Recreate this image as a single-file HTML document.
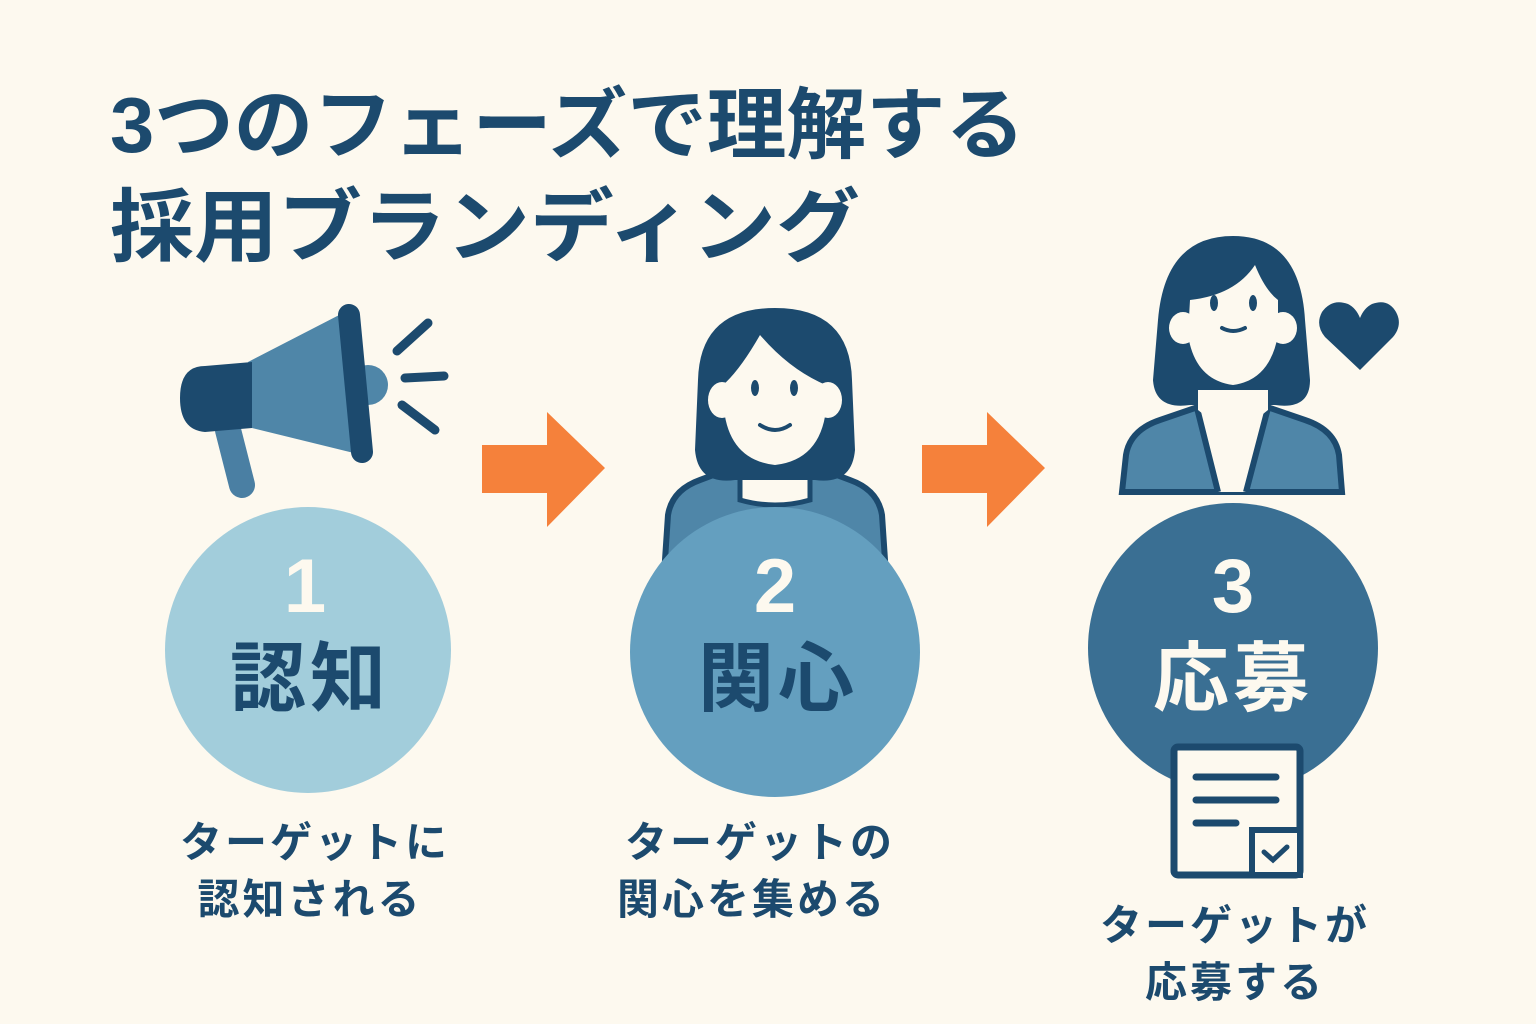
<!DOCTYPE html>
<html><head><meta charset="utf-8"><style>
html,body{margin:0;padding:0;background:#fdf9ef;}
svg{display:block}
text{font-family:"Liberation Sans","Noto Sans CJK JP",sans-serif;font-weight:700;}
</style></head><body>
<svg width="1536" height="1024" viewBox="0 0 1536 1024" xmlns="http://www.w3.org/2000/svg">
<rect width="1536" height="1024" fill="#fdf9ef"/>
<g fill="#1c4a6e">
<text x="110" y="152" font-size="78" textLength="915" lengthAdjust="spacingAndGlyphs">3つのフェーズで理解する</text>
<text x="110" y="255" font-size="80" textLength="750" lengthAdjust="spacingAndGlyphs">採用ブランディング</text>
</g>
<!-- megaphone -->
<g>
<line x1="228" y1="430" x2="242" y2="485" stroke="#4a7fa3" stroke-width="26" stroke-linecap="round"/>
<circle cx="368" cy="385" r="20" fill="#4f86a8"/>
<polygon points="248,362 345,312 362,455 252,428" fill="#4f86a8"/>
<path d="M252,362 L252,428 L205,432 Q180,430 180,398 Q180,366 205,366 Z" fill="#1c4a6e"/>
<line x1="349" y1="315" x2="362" y2="452" stroke="#1c4a6e" stroke-width="22" stroke-linecap="round"/>
<g stroke="#1c4a6e" stroke-width="9" stroke-linecap="round">
<line x1="397" y1="351" x2="428" y2="323"/>
<line x1="405" y1="378" x2="444" y2="376"/>
<line x1="402" y1="405" x2="435" y2="430"/>
</g>
</g>
<!-- arrows -->
<polygon points="482,445 547,445 547,412 605,468 547,527 547,493 482,493" fill="#f5813b"/>
<polygon points="922,445 987,445 987,412 1045,468 987,527 987,493 922,493" fill="#f5813b"/>
<!-- person 2 -->
<g>
<path d="M665,560 L668,515 Q672,490 700,480 L740,465 L810,465 L850,480 Q878,490 882,515 L885,560 Z" fill="#4f86a8" stroke="#1c4a6e" stroke-width="6"/>
<path d="M740,465 L740,500 Q775,510 810,500 L810,465 Z" fill="#fdf9ef" stroke="#1c4a6e" stroke-width="5"/>
<path d="M775,308 Q700,308 698,380 L695,450 Q698,485 735,480 L815,480 Q852,485 855,450 L852,380 Q850,308 775,308 Z" fill="#1c4a6e"/>
<ellipse cx="722" cy="400" rx="14" ry="18" fill="#fdf9ef"/>
<ellipse cx="828" cy="400" rx="14" ry="18" fill="#fdf9ef"/>
<path d="M723,385 Q740,370 760,335 Q790,370 826,385 L826,410 Q820,460 775,465 Q730,460 724,410 Z" fill="#fdf9ef"/>
<ellipse cx="755" cy="388" rx="4" ry="8" fill="#1c4a6e"/>
<ellipse cx="794" cy="388" rx="4" ry="8" fill="#1c4a6e"/>
<path d="M760,425 Q775,435 790,425" stroke="#1c4a6e" stroke-width="4" fill="none" stroke-linecap="round"/>
</g>
<!-- person 3 -->
<g>
<path d="M1122,492 L1126,455 Q1130,430 1160,420 L1195,408 L1270,408 L1305,420 Q1335,430 1339,455 L1342,492 Z" fill="#4f86a8" stroke="#1c4a6e" stroke-width="6"/>
<path d="M1197,408 L1218,492 L1246,492 L1268,408 Z" fill="#fdf9ef"/>
<path d="M1197,408 L1218,492 M1268,408 L1246,492" stroke="#1c4a6e" stroke-width="6"/>
<path d="M1233,236 Q1165,236 1158,320 L1153,380 Q1155,410 1190,405 L1275,405 Q1310,410 1310,380 L1305,320 Q1300,236 1233,236 Z" fill="#1c4a6e"/>
<ellipse cx="1183" cy="328" rx="14" ry="16" fill="#fdf9ef"/>
<ellipse cx="1283" cy="328" rx="14" ry="16" fill="#fdf9ef"/>
<path d="M1190,300 Q1235,295 1255,265 Q1265,290 1278,300 L1278,335 Q1270,380 1233,385 Q1195,380 1188,335 Z" fill="#fdf9ef"/>
<path d="M1198,390 L1198,410 Q1233,440 1268,410 L1268,390" fill="#fdf9ef"/>
<ellipse cx="1214" cy="303" rx="4" ry="8" fill="#1c4a6e"/>
<ellipse cx="1253" cy="303" rx="4" ry="8" fill="#1c4a6e"/>
<path d="M1222,328 Q1233,334 1245,328" stroke="#1c4a6e" stroke-width="4" fill="none" stroke-linecap="round"/>
<path d="M1360,370 L1325,337 Q1315,325 1322,312 Q1332,298 1348,304 Q1356,308 1360,318 Q1364,308 1372,304 Q1388,298 1396,312 Q1403,325 1393,337 Z" fill="#1c4a6e"/>
</g>
<!-- circles -->
<circle cx="308" cy="650" r="143" fill="#a2cddb"/>
<circle cx="775" cy="652" r="145" fill="#649fbf"/>
<circle cx="1233" cy="648" r="145" fill="#3a6f93"/>
<g text-anchor="middle" font-size="76">
<text x="305" y="612" fill="#fdf9ef">1</text>
<text x="310" y="705" fill="#1c4a6e" letter-spacing="4">認知</text>
<text x="775" y="612" fill="#fdf9ef">2</text>
<text x="778" y="705" fill="#1c4a6e" letter-spacing="4">関心</text>
<text x="1233" y="612" fill="#fdf9ef">3</text>
<text x="1233" y="705" fill="#fdf9ef" letter-spacing="4">応募</text>
</g>
<!-- document -->
<g>
<rect x="1174" y="747" width="126" height="128" rx="4" fill="#fdf9ef" stroke="#1c4a6e" stroke-width="7"/>
<g stroke="#1c4a6e" stroke-width="7" stroke-linecap="round">
<line x1="1196" y1="777" x2="1276" y2="777"/>
<line x1="1196" y1="800" x2="1276" y2="800"/>
<line x1="1196" y1="823" x2="1236" y2="823"/>
</g>
<rect x="1252" y="830" width="48" height="45" fill="#fdf9ef" stroke="#1c4a6e" stroke-width="6"/>
<path d="M1264,852 L1273,860 L1287,847" stroke="#1c4a6e" stroke-width="5" fill="none" stroke-linecap="round"/>
</g>
<!-- captions -->
<g text-anchor="middle" font-size="42" fill="#1c4a6e">
<text x="315" y="857" letter-spacing="3">ターゲットに</text>
<text x="310" y="914" letter-spacing="3">認知される</text>
<text x="760" y="857" letter-spacing="3">ターゲットの</text>
<text x="752" y="914" letter-spacing="3">関心を集める</text>
<text x="1235" y="940" letter-spacing="3">ターゲットが</text>
<text x="1235" y="997" letter-spacing="3">応募する</text>
</g>
</svg>
</body></html>
